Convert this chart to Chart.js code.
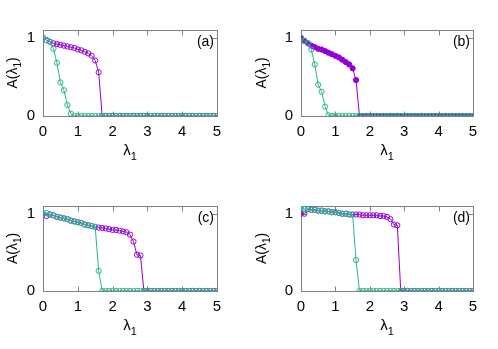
<!DOCTYPE html>
<html>
<head>
<meta charset="utf-8">
<script src="https://cdn.jsdelivr.net/npm/chart.js@4.4.1/dist/chart.umd.min.js"></script>
<style>
  body { margin: 0; background: #fff; }
  #wrap { position: relative; width: 498px; height: 349px; }
  #wrap canvas { position: absolute; }
</style>
</head>
<body>
<div id="wrap">
  <canvas id="pa" width="249" height="175" style="left:0;top:0"></canvas>
  <canvas id="pb" width="249" height="175" style="left:249px;top:0"></canvas>
  <canvas id="pc" width="249" height="174" style="left:0;top:175px"></canvas>
  <canvas id="pd" width="249" height="174" style="left:249px;top:175px"></canvas>
</div>
<script>
// lambda_1 grid shared by all panels
var lambda = [0.0, 0.1, 0.2, 0.3, 0.4, 0.5, 0.6, 0.7, 0.8, 0.9,
              1.0, 1.1, 1.2, 1.3, 1.4, 1.5, 1.6, 1.7, 1.8, 1.9,
              2.0, 2.1, 2.2, 2.3, 2.4, 2.5, 2.6, 2.7, 2.8, 2.9,
              3.0, 3.1, 3.2, 3.3, 3.4, 3.5, 3.6, 3.7, 3.8, 3.9,
              4.0, 4.1, 4.2, 4.3, 4.4, 4.5, 4.6, 4.7, 4.8, 4.9, 5.0];

var xTicks = [0, 1, 2, 3, 4, 5];
var yTicks = [0, 1];
var panelTags = ['(a)', '(b)', '(c)', '(d)'];

// panel (a)
var aPurple = [1.00, 0.97, 0.95, 0.93, 0.92, 0.91, 0.90, 0.89, 0.88, 0.87,
               0.85, 0.84, 0.82, 0.80, 0.77, 0.71, 0.56, 0, 0, 0,
               0, 0, 0, 0, 0, 0, 0, 0, 0, 0,
               0, 0, 0, 0, 0, 0, 0, 0, 0, 0,
               0, 0, 0, 0, 0, 0, 0, 0, 0, 0, 0];
var aGreen  = [1.00, 0.97, 0.95, 0.86, 0.68, 0.43, 0.33, 0.14, 0.03, 0,
               0, 0, 0, 0, 0, 0, 0, 0, 0, 0,
               0, 0, 0, 0, 0, 0, 0, 0, 0, 0,
               0, 0, 0, 0, 0, 0, 0, 0, 0, 0,
               0, 0, 0, 0, 0, 0, 0, 0, 0, 0, 0];

// panel (b)
var bPurple = [1.00, 0.96, 0.93, 0.90, 0.88, 0.86, 0.85, 0.83, 0.81, 0.79,
               0.77, 0.75, 0.72, 0.69, 0.66, 0.61, 0.46, 0, 0, 0,
               0, 0, 0, 0, 0, 0, 0, 0, 0, 0,
               0, 0, 0, 0, 0, 0, 0, 0, 0, 0,
               0, 0, 0, 0, 0, 0, 0, 0, 0, 0, 0];
var bGreen  = [1.00, 0.96, 0.93, 0.85, 0.66, 0.40, 0.31, 0.12, 0.01, 0,
               0, 0, 0, 0, 0, 0, 0, 0, 0, 0,
               0, 0, 0, 0, 0, 0, 0, 0, 0, 0,
               0, 0, 0, 0, 0, 0, 0, 0, 0, 0,
               0, 0, 0, 0, 0, 0, 0, 0, 0, 0, 0];

// panel (c)
var cPurple = [1.00, 0.97, 0.99, 0.98, 0.96, 0.95, 0.94, 0.93, 0.91, 0.90,
               0.89, 0.88, 0.86, 0.85, 0.84, 0.83, 0.82, 0.815, 0.81, 0.80,
               0.79, 0.79, 0.78, 0.77, 0.76, 0.73, 0.64, 0.47, 0.46, 0,
               0, 0, 0, 0, 0, 0, 0, 0, 0, 0,
               0, 0, 0, 0, 0, 0, 0, 0, 0, 0, 0];
var cGreen  = [1.00, 1.01, 0.99, 0.98, 0.96, 0.95, 0.94, 0.93, 0.91, 0.90,
               0.89, 0.88, 0.86, 0.85, 0.84, 0.83, 0.26, 0, 0, 0,
               0, 0, 0, 0, 0, 0, 0, 0, 0, 0,
               0, 0, 0, 0, 0, 0, 0, 0, 0, 0,
               0, 0, 0, 0, 0, 0, 0, 0, 0, 0, 0];

// panel (d)
var dPurple = [1.00, 1.00, 1.06, 1.05, 1.05, 1.04, 1.04, 1.03, 1.03, 1.02,
               1.02, 1.01, 1.00, 1.00, 0.99, 0.99, 0.99, 0.99, 0.98, 0.98,
               0.98, 0.98, 0.98, 0.97, 0.97, 0.96, 0.93, 0.86, 0.85, 0,
               0, 0, 0, 0, 0, 0, 0, 0, 0, 0,
               0, 0, 0, 0, 0, 0, 0, 0, 0, 0, 0];
var dGreen  = [1.07, 1.06, 1.06, 1.05, 1.05, 1.04, 1.04, 1.03, 1.03, 1.02,
               1.02, 1.01, 1.00, 1.00, 0.99, 0.99, 0.40, 0, 0, 0,
               0, 0, 0, 0, 0, 0, 0, 0, 0, 0,
               0, 0, 0, 0, 0, 0, 0, 0, 0, 0,
               0, 0, 0, 0, 0, 0, 0, 0, 0, 0, 0];

var PURPLE = '#9400d3';
var GREEN = '#2ab48f';
var FRAME = '#808080';
var FONT = '"Liberation Sans", Arial, Helvetica, sans-serif';

function pts(ys) {
    return lambda.map(function (x, i) { return { x: x, y: ys[i] }; });
}

// draw text made of [string, isSubscript] pieces, starting at x along baseline
function richText(ctx, parts, x, y, size) {
    parts.forEach(function (p) {
        var s = p[1] ? Math.round(size * 0.72) : size;
        ctx.font = s + 'px ' + FONT;
        ctx.fillText(p[0], x, y + (p[1] ? size * 0.3 : 0));
        x += ctx.measureText(p[0]).width;
    });
}
function richWidth(ctx, parts, size) {
    var w = 0;
    parts.forEach(function (p) {
        ctx.font = (p[1] ? Math.round(size * 0.72) : size) + 'px ' + FONT;
        w += ctx.measureText(p[0]).width;
    });
    return w;
}

// gnuplot style box with inward ticks, plus axis titles and panel tag
var framePlugin = {
    id: 'frame',
    beforeDatasetsDraw: function (chart) {
        var ctx = chart.ctx, a = chart.chartArea;
        var x = chart.scales.x, y = chart.scales.y;
        var L = Math.round(a.left) + 0.5, R = Math.round(a.right) + 0.5;
        var T = Math.round(a.top) + 0.5, B = Math.round(a.bottom) + 0.5;
        ctx.save();
        ctx.strokeStyle = FRAME;
        ctx.lineWidth = 1;
        ctx.strokeRect(L, T, R - L, B - T);
        ctx.beginPath();
        xTicks.forEach(function (v) {
            var px = Math.round(x.getPixelForValue(v)) + 0.5;
            ctx.moveTo(px, B); ctx.lineTo(px, B - 5);
            ctx.moveTo(px, T); ctx.lineTo(px, T + 5);
        });
        yTicks.forEach(function (v) {
            var py = Math.round(y.getPixelForValue(v)) + 0.5;
            ctx.moveTo(L, py); ctx.lineTo(L + 5, py);
            ctx.moveTo(R, py); ctx.lineTo(R - 5, py);
        });
        ctx.stroke();
        ctx.restore();
    },
    afterDraw: function (chart) {
        var ctx = chart.ctx, a = chart.chartArea;
        var tag = chart.options.plugins.frame.tag;
        ctx.save();
        ctx.fillStyle = '#000';
        ctx.textBaseline = 'alphabetic';
        ctx.textAlign = 'left';
        // x title
        var xt = [['\u03bb', 0], ['1', 1]];
        var w = richWidth(ctx, xt, 15);
        richText(ctx, xt, (a.left + a.right) / 2 - w / 2, a.bottom + 39, 15);
        // y title, rotated
        var yt = [['A(\u03bb', 0], ['1', 1], [')', 0]];
        ctx.save();
        ctx.translate(17, (a.top + a.bottom) / 2);
        ctx.rotate(-Math.PI / 2);
        w = richWidth(ctx, yt, 14);
        richText(ctx, yt, -w / 2, 0, 14);
        ctx.restore();
        // panel tag
        ctx.font = '14px ' + FONT;
        ctx.textAlign = 'right';
        ctx.fillText(tag, a.right - 3, a.top + 16);
        ctx.restore();
    }
};

function makePanel(id, tag, purple, green, filled, box) {
    var c = document.getElementById(id);
    var W = c.width, H = c.height;
    return new Chart(c.getContext('2d'), {
        type: 'line',
        data: {
            datasets: [
                {
                    data: pts(green),
                    order: 0,
                    borderColor: GREEN,
                    borderWidth: 1,
                    pointStyle: 'circle',
                    pointRadius: 2.6,
                    pointBorderWidth: 1,
                    pointBorderColor: GREEN,
                    pointBackgroundColor: 'rgba(0,0,0,0)',
                    fill: false,
                    tension: 0
                },
                {
                    data: pts(purple),
                    order: 1,
                    borderColor: PURPLE,
                    borderWidth: 1,
                    pointStyle: 'circle',
                    pointRadius: 2.6,
                    pointBorderWidth: 1,
                    pointBorderColor: PURPLE,
                    pointBackgroundColor: filled ? PURPLE : 'rgba(0,0,0,0)',
                    fill: false,
                    tension: 0
                }
            ]
        },
        options: {
            responsive: false,
            animation: false,
            devicePixelRatio: 1,
            layout: { padding: { top: box.top, right: W - box.right, left: 0, bottom: 0 } },
            plugins: {
                legend: { display: false },
                tooltip: { enabled: false },
                frame: { tag: tag }
            },
            scales: {
                x: {
                    type: 'linear',
                    min: 0,
                    max: 5,
                    afterFit: function (s) { s.height = H - box.bottom; },
                    afterBuildTicks: function (s) { s.ticks = xTicks.map(function (v) { return { value: v }; }); },
                    grid: { display: false, drawTicks: false },
                    border: { display: false },
                    ticks: { color: '#000', font: { family: FONT, size: 15 }, padding: 7, maxRotation: 0 }
                },
                y: {
                    type: 'linear',
                    min: 0,
                    max: 1.1,
                    afterFit: function (s) { s.width = box.left; },
                    afterBuildTicks: function (s) { s.ticks = yTicks.map(function (v) { return { value: v }; }); },
                    grid: { display: false, drawTicks: false },
                    border: { display: false },
                    ticks: { color: '#000', font: { family: FONT, size: 15 }, padding: 8 }
                }
            }
        },
        plugins: [framePlugin]
    });
}

makePanel('pa', panelTags[0], aPurple, aGreen, false, { left: 43, right: 217, top: 30, bottom: 116 });
makePanel('pb', panelTags[1], bPurple, bGreen, true,  { left: 52, right: 224, top: 30, bottom: 116 });
makePanel('pc', panelTags[2], cPurple, cGreen, false, { left: 43, right: 217, top: 31, bottom: 116 });
makePanel('pd', panelTags[3], dPurple, dGreen, false, { left: 52, right: 224, top: 31, bottom: 116 });
</script>
</body>
</html>
